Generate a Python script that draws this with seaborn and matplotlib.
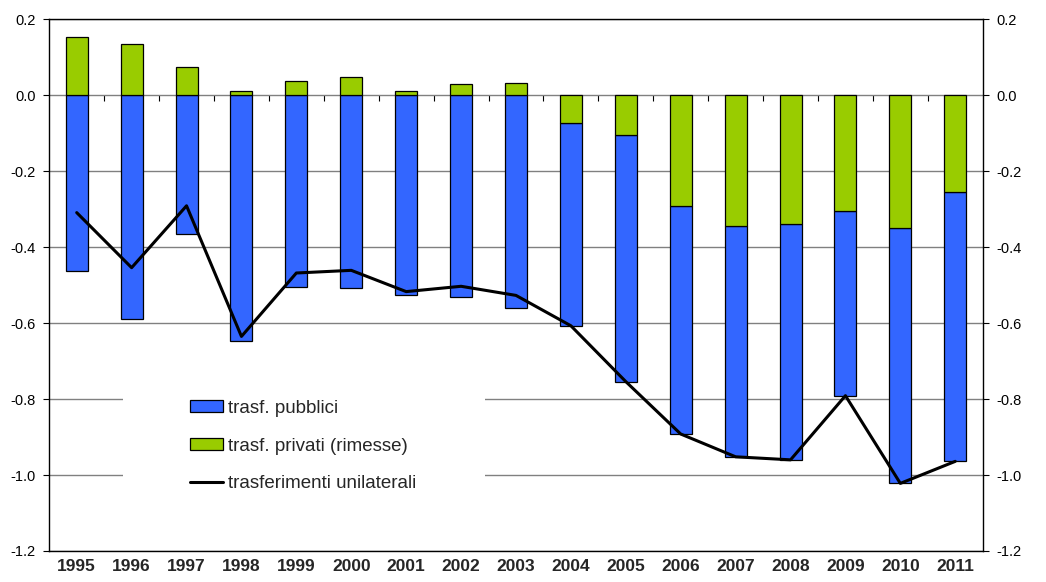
import matplotlib
matplotlib.use("Agg")
import matplotlib.pyplot as plt
import numpy as np
import pandas as pd
import seaborn as sns
from matplotlib.patches import Rectangle
from matplotlib.ticker import FuncFormatter

# Unilateral transfers, % of GDP
years = ["1995", "1996", "1997", "1998", "1999", "2000", "2001", "2002", "2003",
         "2004", "2005", "2006", "2007", "2008", "2009", "2010", "2011"]
pubblici = [-0.462, -0.589, -0.366, -0.647, -0.505, -0.508, -0.527, -0.532, -0.559,
            -0.535, -0.650, -0.600, -0.609, -0.621, -0.485, -0.673, -0.710]
privati = [0.153, 0.135, 0.075, 0.012, 0.037, 0.047, 0.010, 0.029, 0.032,
           -0.072, -0.104, -0.292, -0.343, -0.339, -0.306, -0.349, -0.254]
unilaterali = [-0.309, -0.454, -0.291, -0.635, -0.468, -0.461, -0.517, -0.503, -0.527,
               -0.607, -0.754, -0.892, -0.952, -0.960, -0.791, -1.022, -0.964]

sns.set_style("white")
plt.rcParams["font.family"] = ["Liberation Sans", "DejaVu Sans"]

df = pd.DataFrame({"anno": years, "pubblici": pubblici,
                   "privati": privati, "unilaterali": unilaterali})
df["x"] = np.arange(len(df))

BLUE = "#3366FF"
GREEN = "#99CC00"
YMIN, YMAX = -1.2, 0.2


def fmt_val(v, _pos=None):
    v = round(v, 1)
    if v == 0:
        v = 0.0
    return f"{v:.1f}"


fig = plt.figure(figsize=(10.46, 5.82), dpi=100)
ax = fig.add_axes([0.0471, 0.0533, 0.8924, 0.9135])

# private remittances sit next to zero; public transfers stack beyond them when both are negative
blue_bottom = np.minimum(df["privati"].to_numpy(), 0)
ax.bar(df["x"], df["pubblici"], bottom=blue_bottom, width=0.4, color=BLUE,
       edgecolor="black", linewidth=0.9, label="trasf. pubblici", zorder=3)
ax.bar(df["x"], df["privati"], width=0.4, color=GREEN,
       edgecolor="black", linewidth=0.9, label="trasf. privati (rimesse)", zorder=3)
sns.lineplot(data=df, x="x", y="unilaterali", ax=ax, color="black", linewidth=2.2,
             label="trasferimenti unilaterali", zorder=4)

ax.set_xlim(-0.5, len(df) - 0.5)
ax.set_ylim(YMIN, YMAX)
ax.set_xlabel("")
ax.set_ylabel("")

yticks = np.round(np.arange(YMIN, YMAX + 0.001, 0.2), 1)
ax.set_yticks(yticks)
ax.yaxis.set_major_formatter(FuncFormatter(fmt_val))
ax.tick_params(axis="y", which="major", direction="out", length=4, width=0.8,
               left=True, labelsize=10.5, pad=6, colors="black")
ax.set_xticks(df["x"])
ax.set_xticklabels(df["anno"], fontweight="bold", fontsize=12.5)
ax.tick_params(axis="x", length=0, pad=6)

ax.grid(axis="y", color="#808080", linewidth=1.0, zorder=0)
ax.grid(axis="x", visible=False)
ax.set_axisbelow(True)
for s in ax.spines.values():
    s.set_color("black")
    s.set_linewidth(1.0)

# category axis drawn along the zero line, ticks between years
zero_frac = (0 - YMIN) / (YMAX - YMIN)
sec = ax.secondary_xaxis(zero_frac)
sec.set_xticks(np.arange(0.5, len(df) - 0.5, 1.0))
sec.set_xticklabels([])
sec.tick_params(axis="x", direction="in", length=4, width=0.8, colors="black")
sec.spines["bottom"].set_color("black")
sec.spines["bottom"].set_linewidth(1.2)
for k in ("top", "left", "right"):
    sec.spines[k].set_visible(False)

# mirrored value axis on the right
axr = ax.twinx()
axr.set_ylim(YMIN, YMAX)
axr.set_yticks(yticks)
axr.yaxis.set_major_formatter(FuncFormatter(fmt_val))
axr.tick_params(axis="y", direction="out", length=4, width=0.8, right=True,
                labelsize=10.5, pad=6, colors="black")
axr.grid(False)
for s in axr.spines.values():
    s.set_visible(False)

# white panel behind the legend that interrupts the gridlines
ax.add_patch(Rectangle((0.079, 0.03), 0.388, 0.32, transform=ax.transAxes,
                       facecolor="white", edgecolor="none", zorder=1))

handles, labels = ax.get_legend_handles_labels()
order = [labels.index(l) for l in
         ("trasf. pubblici", "trasf. privati (rimesse)", "trasferimenti unilaterali")]
leg = ax.legend([handles[i] for i in order], [labels[i] for i in order],
                loc="upper left", bbox_to_anchor=(0.1508, 0.284), borderaxespad=0,
                frameon=False, fontsize=13.5, borderpad=0, handlelength=1.75,
                handleheight=0.6, handletextpad=0.3, labelspacing=1.1)
leg.set_zorder(5)

fig.savefig("out.png", dpi=100)
